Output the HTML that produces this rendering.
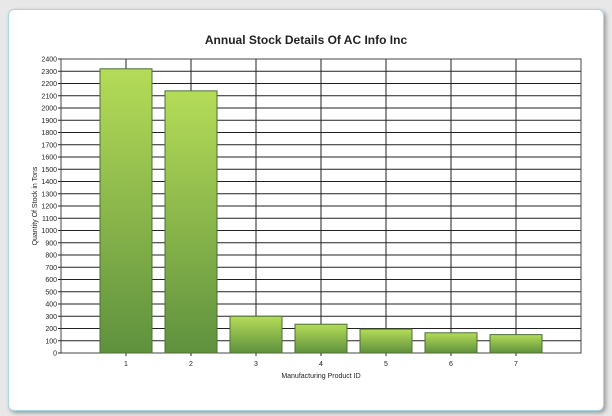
<!DOCTYPE html>
<html><head><meta charset="utf-8"><style>
body{margin:0;width:612px;height:416px;background:#e8e8e8;font-family:"Liberation Sans",sans-serif;overflow:hidden}
#frame{position:absolute;left:8px;top:9px;width:594px;height:400px;background:#fff;border:1px solid #a9d8e6;border-radius:6px;box-shadow:2px 2px 4px #999}
</style></head><body>
<div id="frame"></div>
<svg id="chart" width="612" height="416" style="position:absolute;left:0;top:0">
<defs><linearGradient id="g" x1="0" y1="0" x2="0" y2="1"><stop offset="0" stop-color="#b5dc58"/><stop offset="1" stop-color="#5f913e"/></linearGradient></defs>
<text x="306" y="44" text-anchor="middle" font-size="12" font-weight="bold" fill="#222">Annual Stock Details Of AC Info Inc</text>
<text transform="translate(37,206) rotate(-90)" text-anchor="middle" font-size="7" fill="#222">Quantity Of Stock in Tons</text>
<text x="321" y="378" text-anchor="middle" font-size="7" fill="#222">Manufacturing Product ID</text>
<g id="grid"></g><g id="bars"></g><g id="labels"></g>
</svg>
<script>
const categories=["1","2","3","4","5","6","7"];
const values=[2320,2140,300,235,195,165,150];
const yTicks=[0,100,200,300,400,500,600,700,800,900,1000,1100,1200,1300,1400,1500,1600,1700,1800,1900,2000,2100,2200,2300,2400];
const L=61,R=581,T=59,B=353,yMax=2400;
const ns="http://www.w3.org/2000/svg";
const y=v=>B-(B-T)*v/yMax;
const band=(R-L)/(categories.length+1);
const x=i=>L+band*(i+1);
function mk(t,a,p){const e=document.createElementNS(ns,t);for(const k in a)e.setAttribute(k,a[k]);p.appendChild(e);return e;}
const grid=document.getElementById('grid'),bars=document.getElementById('bars'),labels=document.getElementById('labels');
yTicks.forEach(v=>{
 const l=mk('line',{x1:L-3,x2:R,y1:y(v),y2:y(v),stroke:'#222','stroke-width':1},grid);
 
 
 const t=mk('text',{x:L-4,y:y(v)+2.5,'text-anchor':'end','font-size':7,fill:'#222'},labels);
 t.textContent=v;
 
 
});
categories.forEach((c,i)=>{
 const l=mk('line',{x1:x(i),x2:x(i),y1:T,y2:B+3,stroke:'#222','stroke-width':1},grid);
 
 
 const t=mk('text',{x:x(i),y:B+13,'text-anchor':'middle','font-size':7,fill:'#222'},labels);
 t.textContent=c;
 
 
});
mk('rect',{x:L,y:T,width:R-L,height:B-T,fill:'none',stroke:'#444'},grid);
values.forEach((v,i)=>{
 const r=mk('rect',{x:x(i)-26,y:y(v),width:52,height:B-y(v),fill:'url(#g)',stroke:'#4d6e35','stroke-width':1},bars);
 
 
});
</script>
</body></html>
